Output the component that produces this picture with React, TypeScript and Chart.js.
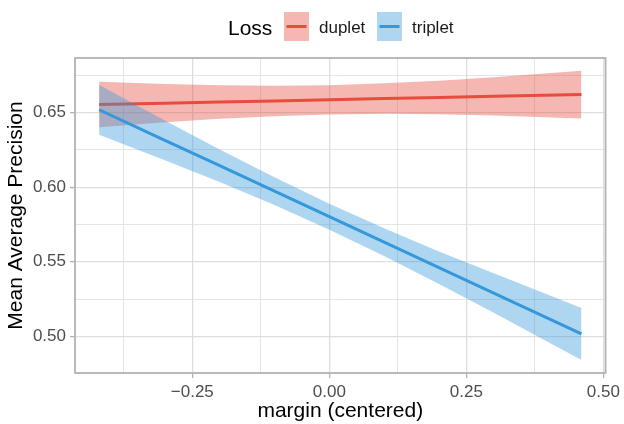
import React, { useEffect, useRef } from "react";
import { Chart, registerables } from "chart.js";

Chart.register(...registerables);

// x positions (margin, centered) where the fitted lines / bands were read
const xs = [-0.42, -0.3, -0.2, -0.1, 0, 0.1, 0.2, 0.3, 0.46];

// duplet loss: fitted line and confidence band
const dupletFit = [0.6554, 0.6563, 0.6571, 0.6578, 0.6586, 0.6594, 0.6601, 0.6609, 0.6621];
const dupletUpper = [0.6706, 0.6691, 0.6683, 0.668, 0.6684, 0.6696, 0.6713, 0.6737, 0.6781];
const dupletLower = [0.6402, 0.6435, 0.6459, 0.6476, 0.6488, 0.6492, 0.6489, 0.6481, 0.6461];

// triplet loss: fitted line and confidence band
const tripletFit = [0.6519, 0.6314, 0.6144, 0.5973, 0.5802, 0.5631, 0.546, 0.529, 0.5016];
const tripletUpper = [0.6685, 0.6447, 0.6253, 0.6066, 0.5889, 0.5724, 0.5569, 0.5422, 0.519];
const tripletLower = [0.6351, 0.6181, 0.6035, 0.588, 0.5715, 0.5538, 0.5351, 0.5158, 0.4842];

// gridline positions (major ones are labelled)
const xTicks = [-0.375, -0.25, -0.125, 0, 0.125, 0.25, 0.375, 0.5];
const yTicks = [0.475, 0.5, 0.525, 0.55, 0.575, 0.6, 0.625, 0.65, 0.675];
const xMajorStep = 0.25;
const yMajorStep = 0.05;

const legendTitle = "Loss";
const seriesNames = ["duplet", "triplet"];

const RED = "#E74C3C";
const BLUE = "#3498DB";
const RED_FILL = "rgba(231,76,60,0.4)";
const BLUE_FILL = "rgba(52,152,219,0.4)";
const FONT = "'Liberation Sans', Arial, Helvetica, sans-serif";

const isMajor = (v: number, step: number) => Math.abs(v / step - Math.round(v / step)) < 1e-6;
const fmt = (v: number) => v.toFixed(2).replace("-", "\u2212");
const pts = (ys: number[]) => xs.map((x, i) => ({ x, y: ys[i] }));

const panelPlugin = {
  id: "panelBorder",
  afterDatasetsDraw(chart: any) {
    const { ctx, chartArea } = chart;
    ctx.save();
    ctx.strokeStyle = "#B3B3B3";
    ctx.lineWidth = 1.8;
    ctx.strokeRect(chartArea.left, chartArea.top, chartArea.right - chartArea.left, chartArea.bottom - chartArea.top);
    ctx.restore();
  },
};

const legendPlugin = {
  id: "ggLegend",
  afterDraw(chart: any) {
    const { ctx } = chart;
    ctx.save();
    ctx.fillStyle = "#000000";
    ctx.textBaseline = "alphabetic";
    ctx.textAlign = "left";
    ctx.font = `21px ${FONT}`;
    ctx.fillText(legendTitle, 228, 34.5);
    const keys = [
      { x: 284, fill: RED_FILL, line: RED, name: seriesNames[0], tx: 319 },
      { x: 377, fill: BLUE_FILL, line: BLUE, name: seriesNames[1], tx: 412 },
    ];
    for (const k of keys) {
      ctx.fillStyle = k.fill;
      ctx.fillRect(k.x, 12, 25, 29);
      ctx.strokeStyle = k.line;
      ctx.lineWidth = 3;
      ctx.beginPath();
      ctx.moveTo(k.x + 2.5, 26.5);
      ctx.lineTo(k.x + 22.5, 26.5);
      ctx.stroke();
      ctx.fillStyle = "#1A1A1A";
      ctx.font = `17px ${FONT}`;
      ctx.fillText(k.name, k.tx, 33);
    }
    ctx.restore();
  },
};

export default function App() {
  const ref = useRef<HTMLCanvasElement | null>(null);

  useEffect(() => {
    if (!ref.current) return;
    const band = { borderWidth: 0, pointRadius: 0, tension: 0 };
    const chart = new Chart(ref.current, {
      type: "line",
      data: {
        datasets: [
          { ...band, label: "duplet upper", data: pts(dupletUpper), fill: "+1", backgroundColor: RED_FILL, order: 6 },
          { ...band, label: "duplet lower", data: pts(dupletLower), fill: false, order: 5 },
          { label: "duplet", data: pts(dupletFit), borderColor: RED, borderWidth: 3, pointRadius: 0, fill: false, order: 4 },
          { ...band, label: "triplet upper", data: pts(tripletUpper), fill: "+1", backgroundColor: BLUE_FILL, order: 3 },
          { ...band, label: "triplet lower", data: pts(tripletLower), fill: false, order: 2 },
          { label: "triplet", data: pts(tripletFit), borderColor: BLUE, borderWidth: 3, pointRadius: 0, fill: false, order: 1 },
        ],
      } as any,
      options: {
        responsive: false,
        animation: false,
        devicePixelRatio: 1,
        layout: { padding: { left: 0, right: 16, top: 58, bottom: 0 } },
        plugins: { legend: { display: false }, tooltip: { enabled: false } },
        scales: {
          x: {
            type: "linear",
            min: -0.464,
            max: 0.504,
            afterBuildTicks: (s: any) => {
              s.ticks = xTicks.map((value) => ({ value }));
            },
            afterFit: (s: any) => {
              s.height = 51;
            },
            grid: {
              color: "#DEDEDE",
              lineWidth: (c: any) => (isMajor(c.tick.value, xMajorStep) ? 1.3 : 0.8),
              tickColor: (c: any) => (isMajor(c.tick.value, xMajorStep) ? "#B3B3B3" : "rgba(0,0,0,0)"),
              tickLength: 5,
              tickWidth: 1.3,
              drawTicks: true,
            },
            border: { display: false },
            ticks: {
              autoSkip: false,
              maxRotation: 0,
              padding: 4,
              color: "#4D4D4D",
              font: { family: FONT, size: 17 },
              callback: (v: any) => (isMajor(Number(v), xMajorStep) ? fmt(Number(v)) : ""),
            },
            title: {
              display: true,
              text: "margin (centered)",
              color: "#000000",
              font: { family: FONT, size: 21 },
              padding: { top: 0, bottom: 0 },
            },
          },
          y: {
            type: "linear",
            min: 0.4754,
            max: 0.6866,
            afterBuildTicks: (s: any) => {
              s.ticks = yTicks.map((value) => ({ value }));
            },
            afterFit: (s: any) => {
              s.width = 75;
            },
            grid: {
              color: "#DEDEDE",
              lineWidth: (c: any) => (isMajor(c.tick.value, yMajorStep) ? 1.3 : 0.8),
              tickColor: (c: any) => (isMajor(c.tick.value, yMajorStep) ? "#B3B3B3" : "rgba(0,0,0,0)"),
              tickLength: 5,
              tickWidth: 1.3,
              drawTicks: true,
            },
            border: { display: false },
            ticks: {
              autoSkip: false,
              padding: 4,
              color: "#4D4D4D",
              font: { family: FONT, size: 17 },
              callback: (v: any) => (isMajor(Number(v), yMajorStep) ? fmt(Number(v)) : ""),
            },
            title: {
              display: true,
              text: "Mean Average Precision",
              color: "#000000",
              font: { family: FONT, size: 21 },
              padding: { top: 4, bottom: 0 },
            },
          },
        },
      },
      plugins: [panelPlugin, legendPlugin],
    } as any);
    return () => chart.destroy();
  }, []);

  return (
    <div style={{ position: "absolute", left: 0, top: 0, width: 624, height: 424, background: "#FFFFFF" }}>
      <canvas ref={ref} width={624} height={424} style={{ display: "block" }} />
    </div>
  );
}
